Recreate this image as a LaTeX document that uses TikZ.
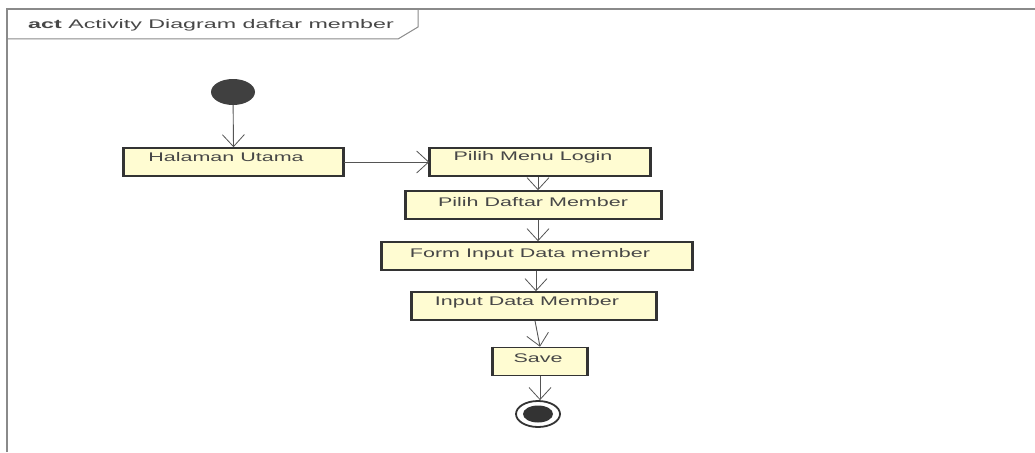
\documentclass[tikz,border=0pt]{standalone}
\usepackage{fontspec}
\newfontfamily\umlfont[FakeStretch=1.72]{Liberation Sans}
\newfontfamily\titlefont[FakeStretch=1.86]{Liberation Sans}
\usetikzlibrary{arrows.meta,shapes.geometric}
\definecolor{boxfill}{HTML}{FFFCD2}
\definecolor{boxline}{HTML}{333333}
\definecolor{flow}{HTML}{555555}
\definecolor{framec}{HTML}{8A8A8A}
\definecolor{txt}{HTML}{474747}
\begin{document}
\begin{tikzpicture}[x=1pt,y=-1pt,
  act/.style={draw=boxline,line width=1.6pt,fill=boxfill,minimum height=28pt,inner sep=0pt},
  lbl/.style={font=\umlfont\fontsize{12.5}{14}\selectfont,text=txt,inner sep=0pt},
  flowline/.style={draw=flow,line width=0.9pt,-{Straight Barb[length=12pt,width=22pt,line width=0.8pt]}},
  startnode/.style={ellipse,fill=black!75,minimum width=44pt,minimum height=26pt,inner sep=0pt}
]
\useasboundingbox (0,0) rectangle (1035,452);
\fill[white] (0,0) rectangle (1035,452);
% frame
\draw[framec,line width=1.3pt] (7,452) -- (7,9) -- (1035,9);
\draw[framec,line width=1pt] (7,39) -- (398,39) -- (418,27) -- (418,9);
\node[anchor=west,inner sep=0pt,font=\titlefont\fontsize{12.5}{14}\selectfont,text=txt] (title) at (28,25) {\textbf{act} Activity Diagram daftar member};
% nodes
\node[startnode] (start) at (233,92) {};
\node[act,minimum width=219pt] (hal) at (233.5,162) {};
\node[act,minimum width=220pt] (login) at (540,162) {};
\node[act,minimum width=255pt] (daftar) at (533.5,205) {};
\node[act,minimum width=310pt] (form) at (537,256) {};
\node[act,minimum width=244pt] (input) at (534,306) {};
\node[act,minimum width=94pt] (save) at (540,361.5) {};
% thick side edges
\foreach \n in {hal,login,daftar,form,input,save}{
  \draw[boxline,line width=3pt] (\n.north west) -- (\n.south west);
  \draw[boxline,line width=3pt] (\n.north east) -- (\n.south east);
}
\node[lbl] (t1) at (226,157.5) {Halaman Utama};
\node[lbl] (t2) at (533,157.5) {Pilih Menu Login};
\node[lbl] (t3) at (533,202) {Pilih Daftar Member};
\node[lbl] (t4) at (530,254) {Form Input Data member};
\node[lbl] (t5) at (527,302) {Input Data Member};
\node[lbl] (t6) at (538,358) {Save};
% end node
\node[ellipse,draw=black!80,line width=1.8pt,fill=white,minimum width=44pt,minimum height=26pt,inner sep=0pt] (end) at (538,414) {};
\fill[black!80] (end.center) ellipse (15pt and 8.5pt);
% flows
\draw[flowline] (start) -- (hal.north);
\draw[flowline] (hal.east) -- (login.west);
\draw[flowline] ([xshift=-2pt]login.south) -- ([xshift=4.5pt]daftar.north);
\draw[flowline] ([xshift=4.5pt]daftar.south) -- ([xshift=1pt]form.north);
\draw[flowline] ([xshift=-1pt]form.south) -- ([xshift=2pt]input.north);
\draw[flowline] ([xshift=1pt]input.south) -- (save.north);
\draw[flowline] (save.south) -- ([xshift=2pt]end.north);
\end{tikzpicture}
\end{document}
